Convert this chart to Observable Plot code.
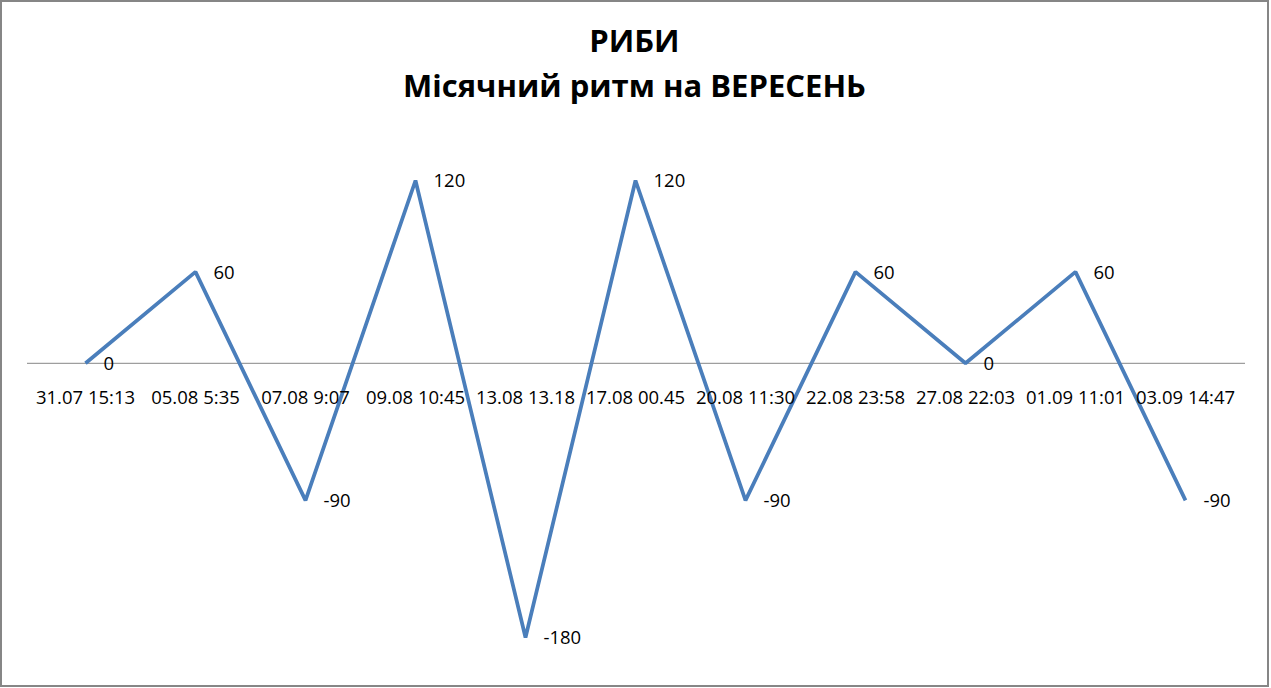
<!DOCTYPE html>
<html>
<head>
<meta charset="utf-8">
<script src="https://cdn.jsdelivr.net/npm/d3@7"></script>
<script src="https://cdn.jsdelivr.net/npm/@observablehq/plot@0.6"></script>
<style>
  html, body { margin: 0; padding: 0; background: #fff; }
  #frame { position: relative; width: 1269px; height: 687px; box-sizing: border-box; border: 2px solid #868686; background: #fff; overflow: hidden; }
  #title { position: absolute; left: 0; top: 16px; width: 100%; text-align: center; font-family: "Open Sans", sans-serif; font-weight: bold; font-size: 31px; line-height: 45px; color: #000; }
  #chart { position: absolute; left: -2px; top: -2px; width: 1271px; height: 688px; }
  #chart svg { max-width: none !important; width: 1271px !important; height: 688px !important; }
</style>
</head>
<body>
<div id="frame">
  <div id="chart"></div>
  <div id="title">РИБИ<br>Місячний ритм на ВЕРЕСЕНЬ</div>
</div>
<script>
const categories = ["31.07 15:13", "05.08 5:35", "07.08 9:07", "09.08 10:45", "13.08 13.18", "17.08 00.45", "20.08 11:30", "22.08 23:58", "27.08 22:03", "01.09 11:01", "03.09 14:47"];
const values = [0, 60, -90, 120, -180, 120, -90, 60, 0, 60, -90];

const data = categories.map((c, i) => ({cat: c, v: values[i]}));

const chart = Plot.plot({
  width: 1271,
  height: 688,
  marginLeft: 81,
  marginRight: 82,
  marginTop: 180,
  marginBottom: 51,
  style: {fontFamily: "'Open Sans', sans-serif", fontSize: "18px", background: "transparent", overflow: "visible", maxWidth: "none"},
  x: {type: "point", domain: categories, padding: 0, axis: null},
  y: {domain: [-180, 120], axis: null},
  marks: [
    Plot.ruleY([0], {stroke: "#868686", strokeWidth: 1, insetLeft: -54, insetRight: -56}),
    Plot.line(data, {x: "cat", y: "v", stroke: "#4A7EBB", strokeWidth: 3.75, strokeLinejoin: "miter", strokeLinecap: "butt"}),
    Plot.text(data, {x: "cat", y: () => 0, text: "cat", dy: 35, fill: "#000", fontSize: 18.5}),
    Plot.text(data, {x: "cat", y: "v", text: d => String(d.v), dx: 18, dy: 1, textAnchor: "start", fill: "#000", fontSize: 18.5})
  ]
});
document.getElementById("chart").appendChild(chart);
</script>
</body>
</html>
